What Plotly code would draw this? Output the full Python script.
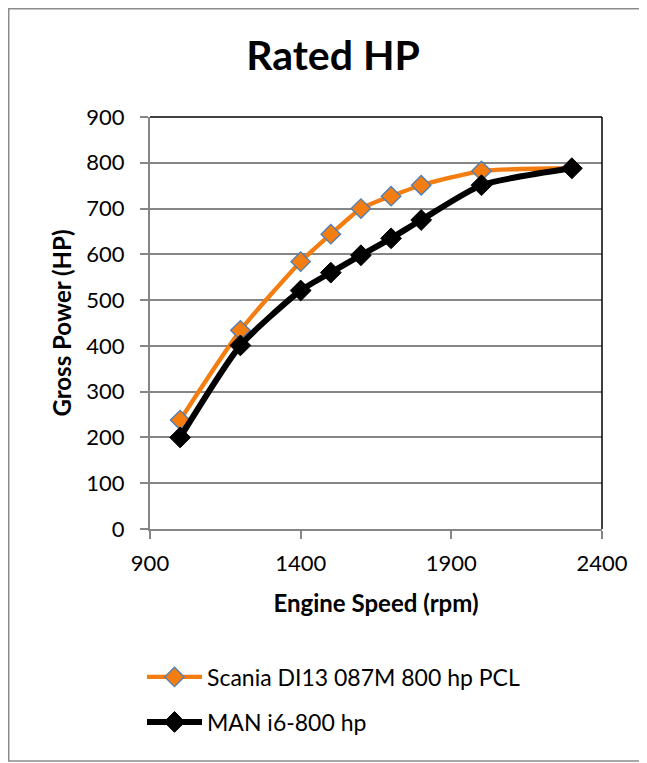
import plotly.graph_objects as go

rpm = [1000, 1200, 1400, 1500, 1600, 1700, 1800, 2000, 2300]
scania_hp = [238, 434, 584, 644, 700, 727, 751, 782, 788]
man_hp = [200, 401, 521, 560, 598, 635, 675, 751, 788]

names = ["Scania DI13 087M 800 hp PCL", "MAN i6-800 hp"]
x_ticks = [900, 1400, 1900, 2400]
y_ticks = list(range(0, 1000, 100))

FONT = "Lato"
OFF = 8  # default page body margin
W, H = 647 - OFF, 763 - OFF
# plot area in page pixels: x 150..602, y 117..529
L = 150 - OFF
T = 117 - OFF
pw, ph = 452, 412
R = W - L - pw
B = H - T - ph

def px_x(px):  # page pixel -> paper x
    return (px - OFF - L) / pw

def px_y(py):  # page pixel -> paper y
    return (T + ph - (py - OFF)) / ph

fig = go.Figure()
fig.add_trace(go.Scatter(
    x=rpm, y=scania_hp, name=names[0], mode="lines+markers",
    line=dict(color="#F47D12", width=4.3, shape="spline", smoothing=0.6),
    marker=dict(symbol="diamond", size=15, color="#F47D12",
                line=dict(color="#4A7EBB", width=1.3)),
    legend="legend",
))
fig.add_trace(go.Scatter(
    x=rpm, y=man_hp, name=names[1], mode="lines+markers",
    line=dict(color="#000000", width=6, shape="spline", smoothing=0.6),
    marker=dict(symbol="diamond", size=16, color="#000000",
                line=dict(color="#000000", width=1)),
    legend="legend2",
))

leg_x = (207 - 65 - OFF - L) / pw
fig.update_layout(
    width=W, height=H,
    margin=dict(l=L, r=R, t=T, b=B, pad=0),
    paper_bgcolor="white", plot_bgcolor="white",
    font=dict(family=FONT, color="black", size=22),
    title=dict(text="<b>Rated HP</b>", x=(333 - OFF) / W, xanchor="center",
               y=1 - (56 - OFF) / H, yanchor="middle",
               font=dict(size=41, family=FONT, color="black")),
    showlegend=True,
    legend=dict(x=leg_x, y=px_y(677), xanchor="left", yanchor="middle",
                bgcolor="rgba(0,0,0,0)", font=dict(size=23, family=FONT), itemwidth=55),
    legend2=dict(x=leg_x, y=px_y(722), xanchor="left", yanchor="middle",
                 bgcolor="rgba(0,0,0,0)", font=dict(size=23, family=FONT), itemwidth=55),
)

fig.update_xaxes(
    range=[900, 2400], tickvals=x_ticks, ticktext=[str(v) for v in x_ticks],
    showgrid=False, zeroline=False,
    showline=True, linecolor="#868686", linewidth=2,
    ticks="outside", ticklen=8, tickcolor="#868686", tickwidth=1.5,
    ticklabelstandoff=6,
    tickfont=dict(size=22, family=FONT),
    title=dict(text="<b>Engine Speed (rpm)</b>", font=dict(size=24, family=FONT), standoff=20),
)
fig.update_yaxes(
    range=[0, 900], tickvals=y_ticks,
    showgrid=True, gridcolor="#868686", gridwidth=1.5, zeroline=False,
    showline=True, linecolor="#868686", linewidth=2,
    ticks="outside", ticklen=8, tickcolor="#868686", tickwidth=1.5,
    ticklabelstandoff=11,
    tickfont=dict(size=22, family=FONT),
    title=dict(text="<b>Gross Power (HP)</b>", font=dict(size=24, family=FONT), standoff=8),
)

# top and right plot border (black)
fig.add_shape(type="line", xref="paper", yref="paper", x0=0, x1=1, y0=1, y1=1,
              line=dict(color="black", width=1.5), layer="above")
fig.add_shape(type="line", xref="paper", yref="paper", x0=1, x1=1, y0=0, y1=1,
              line=dict(color="black", width=1.5), layer="above")
# outer chart border (runs off the right edge)
fig.add_shape(type="rect", xref="paper", yref="paper",
              x0=px_x(8.75), x1=px_x(660), y0=px_y(761), y1=px_y(8.75),
              line=dict(color="#8C8C8C", width=1.5), layer="below")

fig.write_html("out.html")
